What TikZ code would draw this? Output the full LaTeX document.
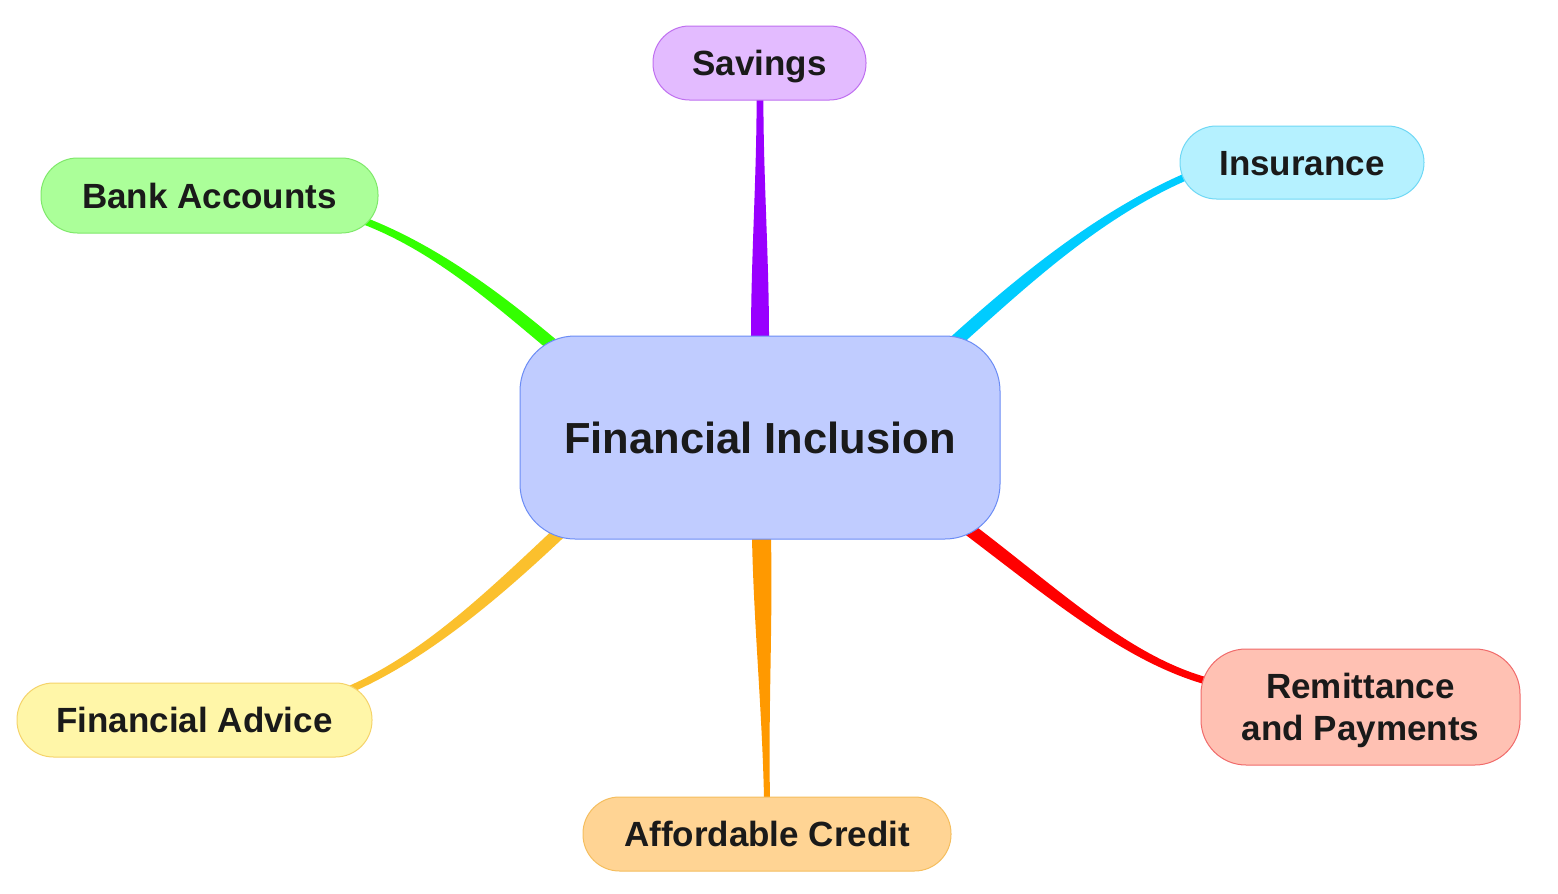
\documentclass[tikz,border=0pt]{standalone}
\usepackage{fontspec}
\setmainfont{Liberation Sans}
\usetikzlibrary{calc}
\definecolor{txt}{HTML}{1A1A1A}
\definecolor{rootfill}{HTML}{C0CCFF}\definecolor{rootline}{HTML}{6B8CF5}
\definecolor{savfill}{HTML}{E3BBFF}\definecolor{savline}{HTML}{BF6FF0}\definecolor{savedge}{HTML}{9900FF}
\definecolor{insfill}{HTML}{B5F1FF}\definecolor{insline}{HTML}{6FD8F5}\definecolor{insedge}{HTML}{00CCFF}
\definecolor{bnkfill}{HTML}{ABFF99}\definecolor{bnkline}{HTML}{7FE86A}\definecolor{bnkedge}{HTML}{33FF00}
\definecolor{advfill}{HTML}{FFF6A8}\definecolor{advline}{HTML}{F5D36A}\definecolor{advedge}{HTML}{FBC02D}
\definecolor{crdfill}{HTML}{FFD494}\definecolor{crdline}{HTML}{F5BE5E}\definecolor{crdedge}{HTML}{FF9900}
\definecolor{remfill}{HTML}{FFC1B3}\definecolor{remline}{HTML}{F06A6A}\definecolor{remedge}{HTML}{FF0000}
% tapered connector: #1 colour, #2 P0, #3 C1, #4 C2, #5 P3, #6 half width start, #7 half width end, #8 name
\newcommand\mmtaper[8]{%
  \coordinate (#8a) at #2;
  \coordinate (#8b) at #3;
  \coordinate (#8c) at #4;
  \coordinate (#8d) at #5;
  \coordinate (#8a1) at ($(#8a)!#6pt!90:(#8b)$);
  \coordinate (#8a2) at ($(#8a)!#6pt!-90:(#8b)$);
  \coordinate (#8d1) at ($(#8d)!#7pt!-90:(#8c)$);
  \coordinate (#8d2) at ($(#8d)!#7pt!90:(#8c)$);
  \fill[#1] (#8a1) .. controls ($(#8b)+(#8a1)-(#8a)$) and ($(#8c)+(#8d1)-(#8d)$) .. (#8d1)
    -- (#8d2) .. controls ($(#8c)+(#8d2)-(#8d)$) and ($(#8b)+(#8a2)-(#8a)$) .. (#8a2) -- cycle;
  \draw[#1, line width={2*#6pt}] (#8a) -- ($(#8a)!-30pt!(#8b)$);
  \draw[#1, line width={2*#7pt}] (#8d) -- ($(#8d)!-30pt!(#8c)$);
}
\tikzset{
  mmbase/.style={draw, line width=1pt, inner sep=0pt, align=center, text=txt},
  mmchild/.style={mmbase, rounded corners=36.5pt, minimum height=74pt,
    font=\bfseries\fontsize{35}{42}\selectfont, text height=25pt, text depth=0pt},
  mmroot/.style={mmbase, rounded corners=55pt, minimum width=480pt, minimum height=203pt,
    font=\bfseries\fontsize{43.5}{52}\selectfont, text height=31.2pt, text depth=0pt}
}
\begin{document}
\begin{tikzpicture}[x=1pt,y=-1pt]
\fill[white] (0,0) rectangle (1558,894);
\useasboundingbox (0,0) rectangle (1558,894);

% connectors (drawn beneath the nodes)
\mmtaper{savedge}{(760,337)}{(760,258)}{(760,178)}{(760,99)}{9}{3.4}{eS}
\mmtaper{crdedge}{(761.5,538)}{(763.3,624.7)}{(765.2,711.3)}{(767,798)}{9.5}{3}{eC}
\mmtaper{insedge}{(957,340)}{(1026,278)}{(1098,216)}{(1183,178)}{6.5}{3.6}{eI}
\mmtaper{bnkedge}{(550,343)}{(494,296)}{(435,249)}{(367,222)}{6.5}{3.6}{eB}
\mmtaper{advedge}{(560,532)}{(491,597)}{(426,655)}{(353,688)}{6.5}{3.6}{eA}
\mmtaper{remedge}{(970,530)}{(1058,597)}{(1126,657)}{(1203,680)}{6.5}{3.6}{eR}

% nodes
\node[mmroot, fill=rootfill, draw=rootline] (root) at (760,437.5) {Financial Inclusion};
\node[mmchild, fill=savfill, draw=savline, minimum width=213pt] (sav) at (759.5,63) {Savings};
\node[mmchild, fill=insfill, draw=insline, minimum width=244pt, minimum height=73pt] (ins) at (1302,162.5) {Insurance};
\node[mmchild, fill=bnkfill, draw=bnkline, minimum width=337pt, minimum height=75pt] (bnk) at (209.5,195.5) {Bank Accounts};
\node[mmchild, fill=advfill, draw=advline, minimum width=355pt] (adv) at (194.5,720) {Financial Advice};
\node[mmchild, fill=crdfill, draw=crdline, minimum width=368pt] (crd) at (767,834) {Affordable Credit};
\node[mmchild, fill=remfill, draw=remline, rounded corners=45pt, minimum width=319pt, minimum height=116pt, text height=67pt] (rem) at (1360.5,707) {Remittance\\and Payments};
\end{tikzpicture}
\end{document}
